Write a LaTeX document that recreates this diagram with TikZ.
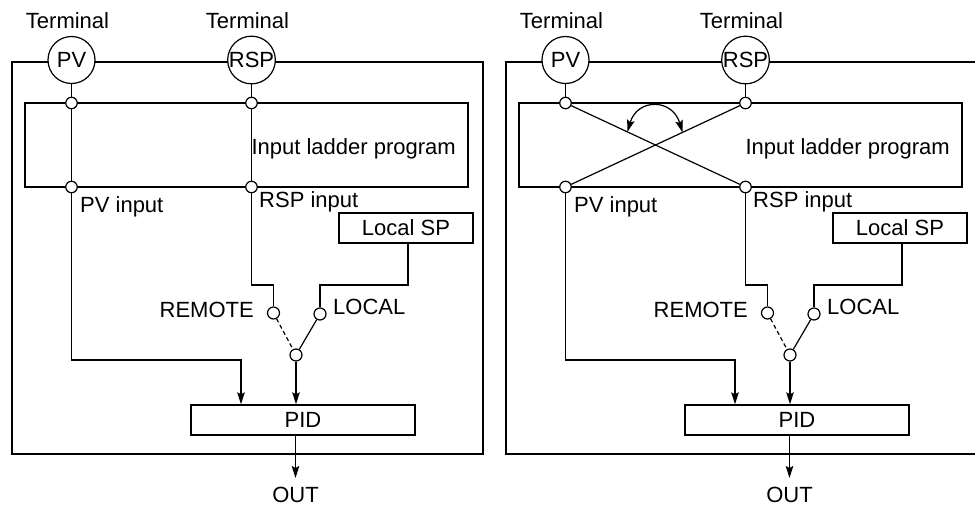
\documentclass[tikz,border=0pt]{standalone}
\usepackage{fontspec}
\setmainfont{Liberation Sans}
\usetikzlibrary{arrows.meta,calc}
\tikzset{
  thickline/.style={line width=2.8pt},
  thinline/.style={line width=1.2pt},
  term/.style={circle, draw, line width=1.2pt, fill=white, minimum size=47pt, inner sep=0pt},
  dot/.style={circle, draw, line width=1.2pt, fill=white, minimum size=11.5pt, inner sep=0pt},
  swdot/.style={circle, draw, line width=1.2pt, fill=white, minimum size=12pt, inner sep=0pt},
  blk/.style={draw, line width=1.4pt, inner sep=0pt},
  lbl/.style={inner sep=0pt},
  tip/.style={-{Stealth[length=12pt,width=7.5pt,inset=2pt]}},
  arr/.style={thinline, tip},
  every node/.style={font=\fontsize{22}{26}\selectfont},
}
\newcommand\drawpanel[1]{%
  \draw[thickline] (12,62) rectangle (483,454);
  \node[lbl, anchor=base] (#1t1) at (67.5,28) {Terminal};
  \node[lbl, anchor=base] (#1t2) at (247.5,28) {Terminal};
  \node[term] (#1pv) at (71.5,60) {PV};
  \node[term] (#1rsp) at (251.5,60) {RSP};
  \draw[thickline] (25,103) rectangle (468,187);
  \node[dot] (#1a1) at (71.5,103) {};
  \node[dot] (#1a2) at (251.5,103) {};
  \node[dot] (#1b1) at (71.5,187) {};
  \node[dot] (#1b2) at (251.5,187) {};
  \draw[thinline] (#1pv) -- (#1a1);
  \draw[thinline] (#1rsp) -- (#1a2);
  \node[lbl, anchor=base east] (#1ill) at (456,154) {Input ladder program};
  \node[lbl, anchor=base west] (#1pvl) at (80,212) {PV input};
  \node[lbl, anchor=base west] (#1rsl) at (259,207) {RSP input};
  \node[blk, minimum width=134pt, minimum height=30pt] (#1lsp) at (406,228) {Local SP};
  \node[swdot] (#1rm) at (273.5,313) {};
  \node[swdot] (#1lc) at (320,314) {};
  \node[swdot] (#1cm) at (296,355) {};
  \node[lbl, anchor=base east] (#1rml) at (254,317) {REMOTE};
  \node[lbl, anchor=base west] (#1lcl) at (333,314) {LOCAL};
  \node[blk, minimum width=224pt, minimum height=30pt] (#1pid) at (303,420) {PID};
  \coordinate (#1j1) at (241,360);
  \coordinate (#1j2) at (273.5,285);
  \coordinate (#1j3) at (408,285);
  \coordinate (#1out) at (295.5,478);
  \draw[arr] (#1b1) |- (#1j1) -- (#1j1 |- #1pid.north);
  \draw[thinline] (#1b2) |- (#1j2) -- (#1rm);
  \draw[thinline] (#1lc) |- (#1j3) -- (#1j3 |- #1lsp.south);
  \draw[thinline, dash pattern=on 4pt off 3pt] (#1rm) -- (#1cm);
  \draw[thinline] (#1lc) -- (#1cm);
  \draw[arr] (#1cm) -- (#1cm |- #1pid.north);
  \draw[arr] (#1out |- #1pid.south) -- (#1out);
  \node[lbl, anchor=base] (#1outl) at (295.5,502) {OUT};
}
\begin{document}
\begin{tikzpicture}[x=1pt, y=-1pt]
  \clip (0,0) rectangle (975,507);
  \begin{scope}
    \drawpanel{L}
    \draw[thinline] (La1) -- (Lb1);
    \draw[thinline] (La2) -- (Lb2);
  \end{scope}
  \begin{scope}[xshift=494pt]
    \drawpanel{R}
    \draw[thinline] (Ra1) -- (Rb2);
    \draw[thinline] (Ra2) -- (Rb1);
    \coordinate (Rc1) at ($(Ra1.center)!0.344!(Rb2.center)$);
    \coordinate (Rc2) at ($(Ra2.center)!0.35!(Rb1.center)$);
    \draw[thinline, {Stealth[length=12pt,width=7.5pt,inset=2pt]}-{Stealth[length=12pt,width=7.5pt,inset=2pt]}]
      (Rc1) .. controls +(10,-34) and +(-10,-34) .. (Rc2);
  \end{scope}
\end{tikzpicture}
\end{document}
